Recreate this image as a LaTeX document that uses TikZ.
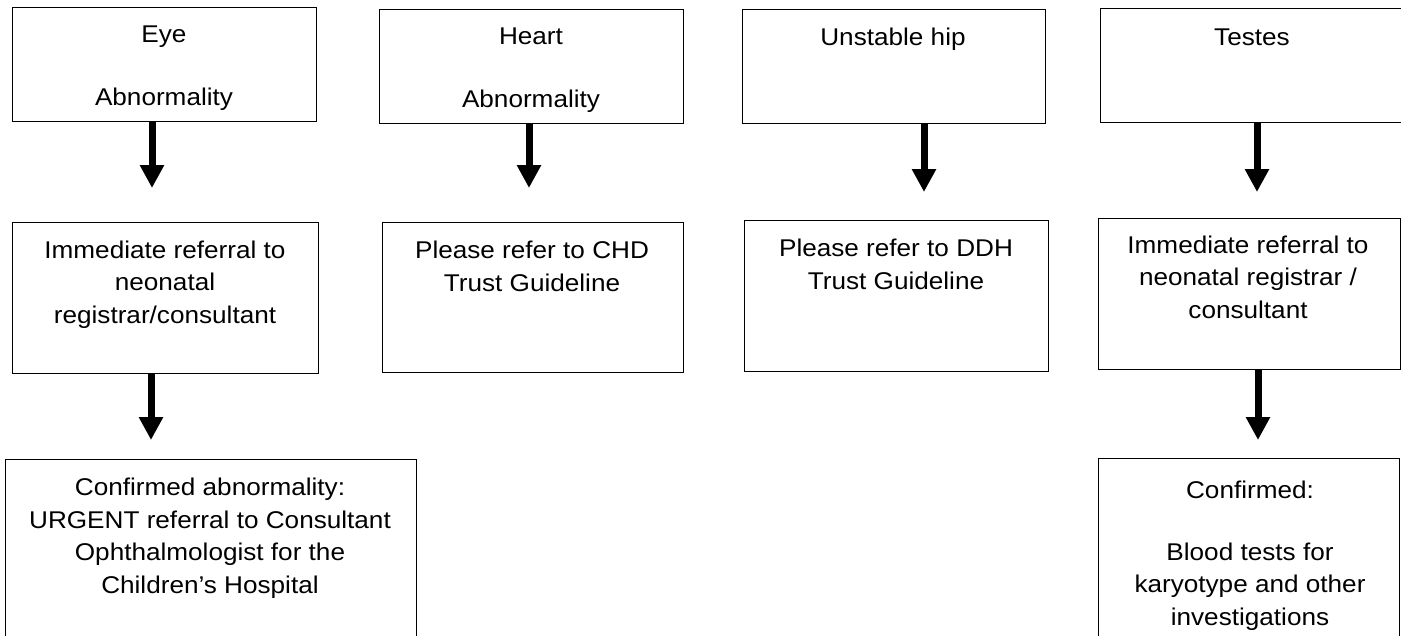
\documentclass[tikz,border=0pt]{standalone}
\usepackage{fontspec}
\setmainfont{Liberation Sans}[FakeStretch=1.08]
\usetikzlibrary{arrows.meta}
\begin{document}
\begin{tikzpicture}[x=1pt,y=-1pt,
  box/.style={draw=black,line width=1.3pt,inner sep=0pt,anchor=north west},
  txt/.style={align=center,anchor=base,inner sep=0pt,font=\fontsize{24.2}{32.5}\selectfont},
  arr/.style={line width=7pt,-{Triangle[width=23pt,length=23pt]}}]
\useasboundingbox (0,0) rectangle (1401,635);
% top row
\node[box,minimum width=304pt,minimum height=114pt] (eye) at (12,7) {};
\node[box,minimum width=304pt,minimum height=114pt] (heart) at (379,9) {};
\node[box,minimum width=303pt,minimum height=114pt] (hip) at (742,9) {};
\node[box,minimum width=306pt,minimum height=114pt] (testes) at (1100,8) {};
% middle row
\node[box,minimum width=306pt,minimum height=151pt] (eyeref) at (12,222) {};
\node[box,minimum width=301pt,minimum height=150pt] (chd) at (382,222) {};
\node[box,minimum width=304pt,minimum height=151pt] (ddh) at (744,220) {};
\node[box,minimum width=302pt,minimum height=151pt] (tref) at (1098,218) {};
% bottom row
\node[box,minimum width=411pt,minimum height=190pt] (eyeconf) at (5,459) {};
\node[box,minimum width=301pt,minimum height=190pt] (tconf) at (1098,458) {};
% texts (anchor = baseline of last line)
\node[txt] (teye) at (164,105) {Eye\\[30pt]Abnormality};
\node[txt] (theart) at (531,107) {Heart\\[30pt]Abnormality};
\node[txt] (thip) at (893,45) {Unstable hip};
\node[txt] (ttestes) at (1252,45) {Testes};
\node[txt] (teyeref) at (165,323) {Immediate referral to\\neonatal\\registrar/consultant};
\node[txt] (tchd) at (532,291) {Please refer to CHD\\Trust Guideline};
\node[txt] (tddh) at (896,289) {Please refer to DDH\\Trust Guideline};
\node[txt] (ttref) at (1248,318) {Immediate referral to\\neonatal registrar /\\consultant};
\node[txt] (teyeconf) at (210,593) {Confirmed abnormality:\\URGENT referral to Consultant\\Ophthalmologist for the\\Children’s Hospital};
\node[txt] (ttconf) at (1250,625) {Confirmed:\\[29pt]Blood tests for\\karyotype and other\\investigations};
% arrow tips
\coordinate (a1) at (152,188);
\coordinate (a2) at (529,188);
\coordinate (a3) at (924,192);
\coordinate (a4) at (1257,192);
\coordinate (a5) at (151,440);
\coordinate (a6) at (1258,440);
\draw[arr] (eye.south -| a1) -- (a1);
\draw[arr] (heart.south -| a2) -- (a2);
\draw[arr] (hip.south -| a3) -- (a3);
\draw[arr] (testes.south -| a4) -- (a4);
\draw[arr] (eyeref.south -| a5) -- (a5);
\draw[arr] (tref.south -| a6) -- (a6);
\end{tikzpicture}
\end{document}
